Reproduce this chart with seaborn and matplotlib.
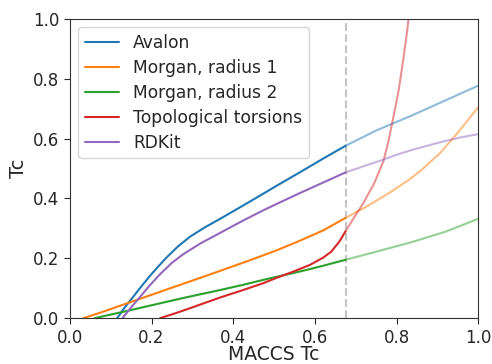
import matplotlib
matplotlib.use("Agg")
import matplotlib.pyplot as plt
import seaborn as sns

# values; each curve has a solid part (x <= cutoff)
# and a faded part (x >= cutoff)
cutoff = 0.675

avalon_x = [0.116, 0.135, 0.155, 0.175, 0.196, 0.216, 0.237, 0.265, 0.294, 0.33,
            0.368, 0.42, 0.47, 0.507, 0.564, 0.62, 0.675]
avalon_y = [0.0, 0.037, 0.071, 0.106, 0.141, 0.172, 0.203, 0.240, 0.272, 0.303,
            0.332, 0.373, 0.413, 0.443, 0.488, 0.533, 0.576]
avalon_fx = [0.675, 0.75, 0.837, 0.907, 1.0]
avalon_fy = [0.576, 0.627, 0.677, 0.720, 0.777]

morgan1_x = [0.033, 0.074, 0.12, 0.2, 0.28, 0.368, 0.44, 0.507, 0.56, 0.62, 0.675]
morgan1_y = [0.0, 0.018, 0.040, 0.078, 0.116, 0.158, 0.193, 0.227, 0.257, 0.293, 0.335]
morgan1_fx = [0.675, 0.723, 0.784, 0.83, 0.86, 0.907, 0.95, 1.0]
morgan1_fy = [0.335, 0.370, 0.420, 0.462, 0.494, 0.552, 0.620, 0.705]

morgan2_x = [0.061, 0.13, 0.2, 0.28, 0.368, 0.42, 0.474, 0.57, 0.62, 0.675]
morgan2_y = [0.0, 0.021, 0.043, 0.068, 0.094, 0.110, 0.128, 0.158, 0.175, 0.195]
morgan2_fx = [0.675, 0.75, 0.837, 0.92, 1.0]
morgan2_fy = [0.195, 0.222, 0.254, 0.289, 0.332]

torsion_x = [0.221, 0.26, 0.3, 0.368, 0.42, 0.474, 0.507, 0.55, 0.588, 0.62, 0.64,
             0.66, 0.675]
torsion_y = [0.0, 0.017, 0.036, 0.069, 0.092, 0.117, 0.135, 0.157, 0.178, 0.202,
             0.222, 0.256, 0.290]
torsion_fx = [0.675, 0.7, 0.719, 0.745, 0.768, 0.78, 0.792, 0.805, 0.815, 0.825, 0.832]
torsion_fy = [0.290, 0.345, 0.385, 0.450, 0.525, 0.590, 0.670, 0.760, 0.850, 0.950, 1.03]

rdkit_x = [0.129, 0.15, 0.172, 0.196, 0.221, 0.25, 0.278, 0.32, 0.368, 0.42, 0.47,
           0.507, 0.56, 0.62, 0.675]
rdkit_y = [0.0, 0.036, 0.071, 0.110, 0.147, 0.185, 0.214, 0.250, 0.285, 0.323,
           0.358, 0.382, 0.416, 0.453, 0.487]
rdkit_fx = [0.675, 0.72, 0.764, 0.8, 0.837, 0.907, 0.95, 1.0]
rdkit_fy = [0.487, 0.508, 0.528, 0.546, 0.562, 0.588, 0.602, 0.615]

series = [
    ("Avalon", avalon_x, avalon_y, avalon_fx, avalon_fy),
    ("Morgan, radius 1", morgan1_x, morgan1_y, morgan1_fx, morgan1_fy),
    ("Morgan, radius 2", morgan2_x, morgan2_y, morgan2_fx, morgan2_fy),
    ("Topological torsions", torsion_x, torsion_y, torsion_fx, torsion_fy),
    ("RDKit", rdkit_x, rdkit_y, rdkit_fx, rdkit_fy),
]

sns.set_style("white")
plt.rcParams["font.family"] = ["DejaVu Sans"]
palette = sns.color_palette("tab10")

fig, ax = plt.subplots(figsize=(4.92, 3.64), dpi=100)
fig.subplots_adjust(left=0.142, right=0.972, bottom=0.126, top=0.948)

for i, (name, x, y, fx, fy) in enumerate(series):
    sns.lineplot(x=x, y=y, ax=ax, color=palette[i], lw=1.5, label=name,
                 sort=False, estimator=None)
    sns.lineplot(x=fx, y=fy, ax=ax, color=palette[i], lw=1.5, alpha=0.5,
                 sort=False, estimator=None)

ax.axvline(cutoff, color="#c4c4c4", ls="--", lw=1.5, zorder=0)

ax.set_xlim(0, 1)
ax.set_ylim(0, 1)
ax.set_xticks([0, 0.2, 0.4, 0.6, 0.8, 1.0])
ax.set_yticks([0, 0.2, 0.4, 0.6, 0.8, 1.0])
ax.tick_params(labelsize=12, direction="out", length=4, left=True, bottom=True)
ax.set_xlabel("MACCS Tc", fontsize=13.5, va="baseline")
ax.set_ylabel("Tc", fontsize=14)
ax.xaxis.set_label_coords(0.5, -0.1385)
for s in ax.spines.values():
    s.set_color("#333333")

ax.legend(loc="upper left", fontsize=12.3, frameon=True, labelspacing=0.4)

fig.savefig("out.png", dpi=100)
